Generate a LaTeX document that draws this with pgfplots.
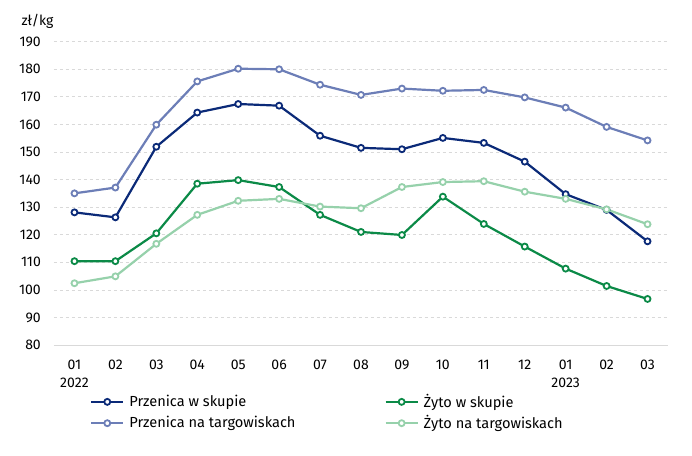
\documentclass[border=0pt]{standalone}
\usepackage{fontspec}
\setmainfont{Fira Sans}
\usepackage{pgfplots}
\pgfplotsset{compat=1.18}

\definecolor{pskup}{HTML}{0B2A78}
\definecolor{ptarg}{HTML}{6C7EB7}
\definecolor{zskup}{HTML}{0B8A47}
\definecolor{ztarg}{HTML}{96D1AB}
\definecolor{gridc}{HTML}{D9D9D9}

\newcommand{\chartfont}{\fontsize{14bp}{18bp}\selectfont}
\newcommand{\legfont}{\fontsize{14.6bp}{18bp}\selectfont}

\pgfplotsset{
  series/.style={
    color=#1, line width=2.2bp, mark=*, mark size=3bp,
    mark options={fill=white, draw=#1, line width=1.8bp, solid}
  }
}

\begin{document}
\chartfont
\begin{tikzpicture}
\path[use as bounding box] (-54bp,-111bp) rectangle (638bp,345bp);
\begin{axis}[
  scale only axis,
  width=614bp, height=303.3bp,
  at={(0,0)}, anchor=south west,
  xmin=-0.5, xmax=14.5,
  ymin=80, ymax=190,
  ytick={80,90,...,190},
  xtick={0,...,14},
  xticklabels={01\\2022,02,03,04,05,06,07,08,09,10,11,12,01\\2023,02,03},
  axis lines*=left,
  y axis line style={draw=none},
  x axis line style={draw=gridc, line width=0.9bp},
  major tick length=0pt,
  ymajorgrids,
  grid style={gridc, dashed, line width=0.7bp},
  /pgf/number format/assume math mode=true,
  tick label style={font=\chartfont, inner sep=0pt},
  yticklabel style={anchor=east, xshift=-13bp},
  xticklabel style={anchor=north, yshift=-15bp, align=center},
  clip=false,
  legend columns=2,
  legend cell align=left,
  legend style={
    draw=none, fill=none, font=\legfont,
    at={(axis description cs:0,0)}, anchor=north west,
    xshift=36bp, yshift=-49bp,
    inner sep=0pt, row sep=6bp,
    nodes={inner sep=0pt},
    column sep=5bp,
    /tikz/every even column/.append style={column sep=89bp}
  },
  legend image code/.code={
    \draw[mark repeat=2, mark phase=2, #1] plot coordinates {(0bp,0bp) (16bp,0bp) (32bp,0bp)};
  },
]
\addplot[series=pskup] coordinates {
  (0,128.1) (1,126.3) (2,151.9) (3,164.3) (4,167.4) (5,166.8) (6,155.9) (7,151.5)
  (8,151.0) (9,155.1) (10,153.3) (11,146.5) (12,134.7) (13,129.0) (14,117.6)
};
\addlegendentry{Przenica w skupie}
\addplot[series=zskup] coordinates {
  (0,110.4) (1,110.4) (2,120.5) (3,138.5) (4,139.8) (5,137.3) (6,127.2) (7,121.0)
  (8,119.9) (9,133.8) (10,123.9) (11,115.7) (12,107.7) (13,101.4) (14,96.7)
};
\addlegendentry{Żyto w skupie}
\addplot[series=ptarg] coordinates {
  (0,135.0) (1,137.1) (2,159.9) (3,175.6) (4,180.2) (5,180.0) (6,174.4) (7,170.7)
  (8,173.0) (9,172.2) (10,172.5) (11,169.8) (12,166.1) (13,159.1) (14,154.2)
};
\addlegendentry{Przenica na targowiskach}
\addplot[series=ztarg] coordinates {
  (0,102.4) (1,104.9) (2,116.7) (3,127.2) (4,132.3) (5,133.0) (6,130.2) (7,129.6)
  (8,137.3) (9,139.1) (10,139.4) (11,135.6) (12,133.0) (13,129.2) (14,123.8)
};
\addlegendentry{Żyto na targowiskach}
\node[anchor=base, font=\chartfont] at (rel axis cs:0,1) [xshift=-16.5bp, yshift=15.7bp] {zł/kg};
\end{axis}
\end{tikzpicture}
\end{document}
